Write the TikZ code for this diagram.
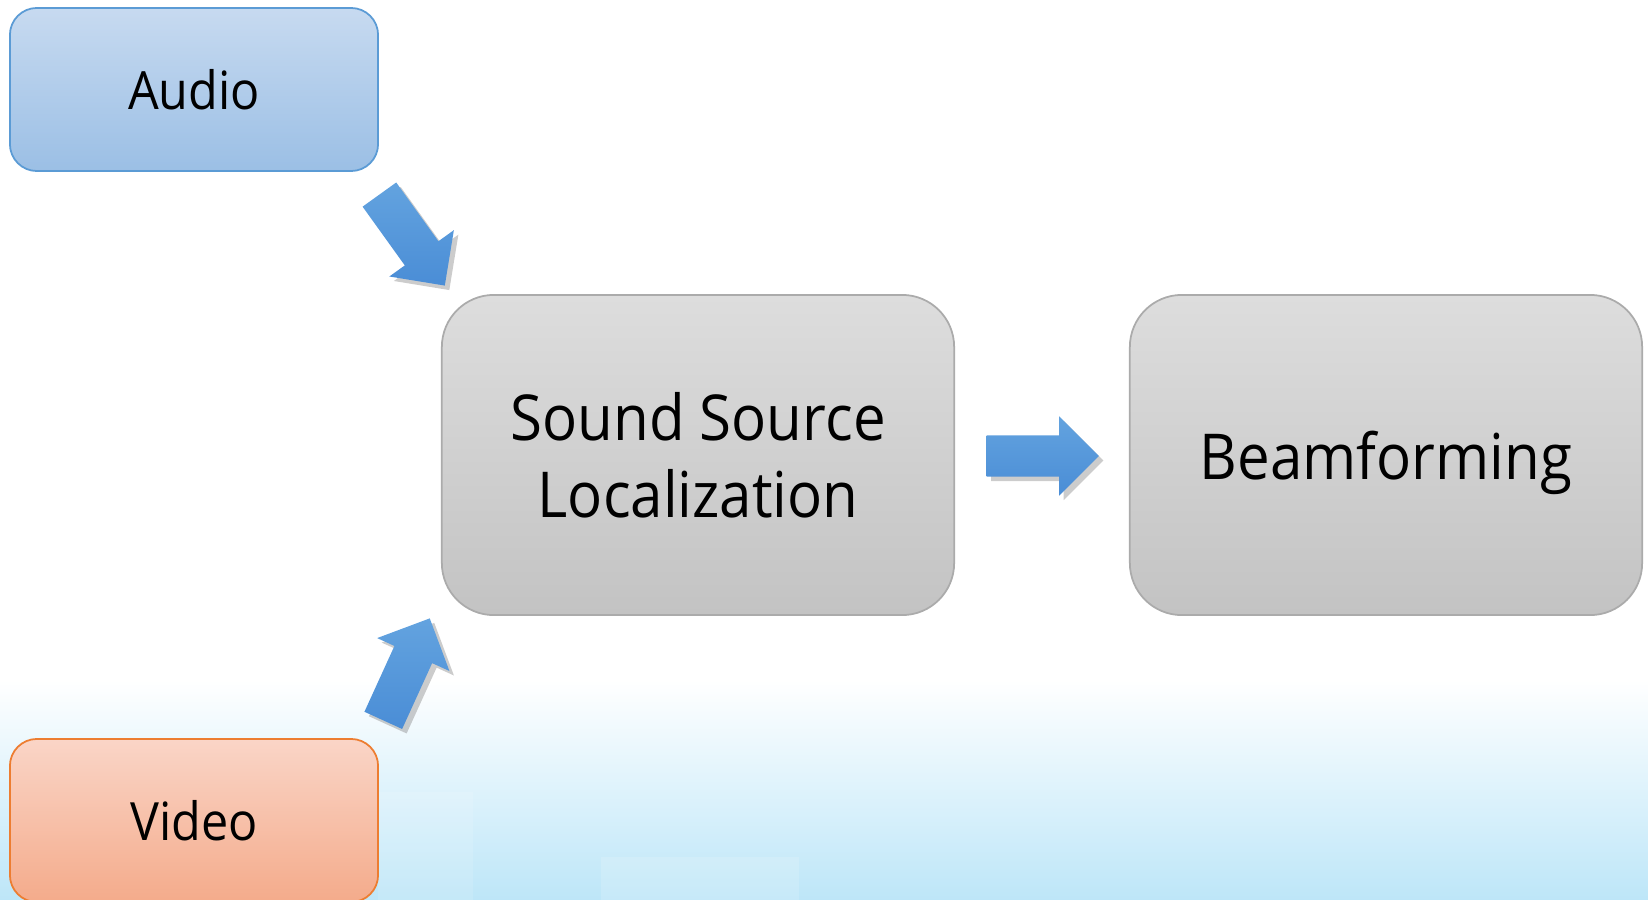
\documentclass[tikz,border=0pt]{standalone}
\usepackage{fontspec}
\setmainfont{Open Sans}
\newfontfamily\labelfont[FakeStretch=0.92]{Open Sans}
\usetikzlibrary{shapes.arrows,shadows}

\definecolor{audioTop}{HTML}{C7DAF0}
\definecolor{audioBot}{HTML}{9BBFE5}
\definecolor{audioLine}{HTML}{5B9BD5}
\definecolor{videoTop}{HTML}{FAD5C7}
\definecolor{videoBot}{HTML}{F4AB8B}
\definecolor{videoLine}{HTML}{ED7D31}
\definecolor{stepTop}{HTML}{DDDDDD}
\definecolor{stepBot}{HTML}{C3C3C3}
\definecolor{stepLine}{HTML}{ABABAB}
\definecolor{arrowLight}{HTML}{63A3DF}
\definecolor{arrowDark}{HTML}{4A8DD6}
\definecolor{bgBlue}{HTML}{BDE6F8}

\begin{document}
\begin{tikzpicture}[x=0.01cm,y=-0.01cm,
    inbox/.style={rectangle, rounded corners=0.27cm, line width=0.5pt,
        minimum width=3.68cm, minimum height=1.63cm, inner sep=0pt,
        text depth=0pt, font=\labelfont\fontsize{15}{18}\selectfont},
    stepbox/.style={rectangle, rounded corners=0.52cm, line width=0.5pt,
        draw=stepLine, top color=stepTop, bottom color=stepBot,
        minimum width=5.12cm, minimum height=3.2cm, inner sep=0pt,
        align=center, text depth=0pt,
        font=\labelfont\fontsize{18}{21.8}\selectfont},
    blockarrow/.style={single arrow, draw=none, anchor=tail,
        top color=arrowLight, bottom color=arrowDark,
        minimum height=1.12cm, minimum width=0.78cm,
        single arrow head extend=0.19cm, single arrow head indent=0pt,
        inner xsep=0pt, inner ysep=0.2cm, text height=0pt, text depth=0pt,
        drop shadow={shadow xshift=0.045cm, shadow yshift=-0.045cm,
            opacity=0.4}},
    ]
    \useasboundingbox (0,0) rectangle (1648,900);

    % background fading into light blue
    \fill[top color=white, bottom color=bgBlue, draw=none] (0,680) rectangle (1648,900);
    \fill[white, opacity=0.12] (378,792) rectangle (473,900);
    \fill[white, opacity=0.15] (601,857) rectangle (799,900);

    \node[inbox, draw=audioLine, top color=audioTop, bottom color=audioBot] (audio) at (194,89.5) {Audio};
    \node[inbox, draw=videoLine, top color=videoTop, bottom color=videoBot] (video) at (194,820.5) {Video};

    \node[stepbox] (ssl) at (698,455) {Sound Source\\Localization};
    \node[stepbox] (beam) at (1386,455) {Beamforming};

    \node[blockarrow, rotate=-54.3] (audio2ssl) at (379,194) {};
    \node[blockarrow, rotate=65.5] (video2ssl) at (383,721) {};
    \node[blockarrow] (ssl2beam) at (986,456) {};

\end{tikzpicture}
\end{document}
